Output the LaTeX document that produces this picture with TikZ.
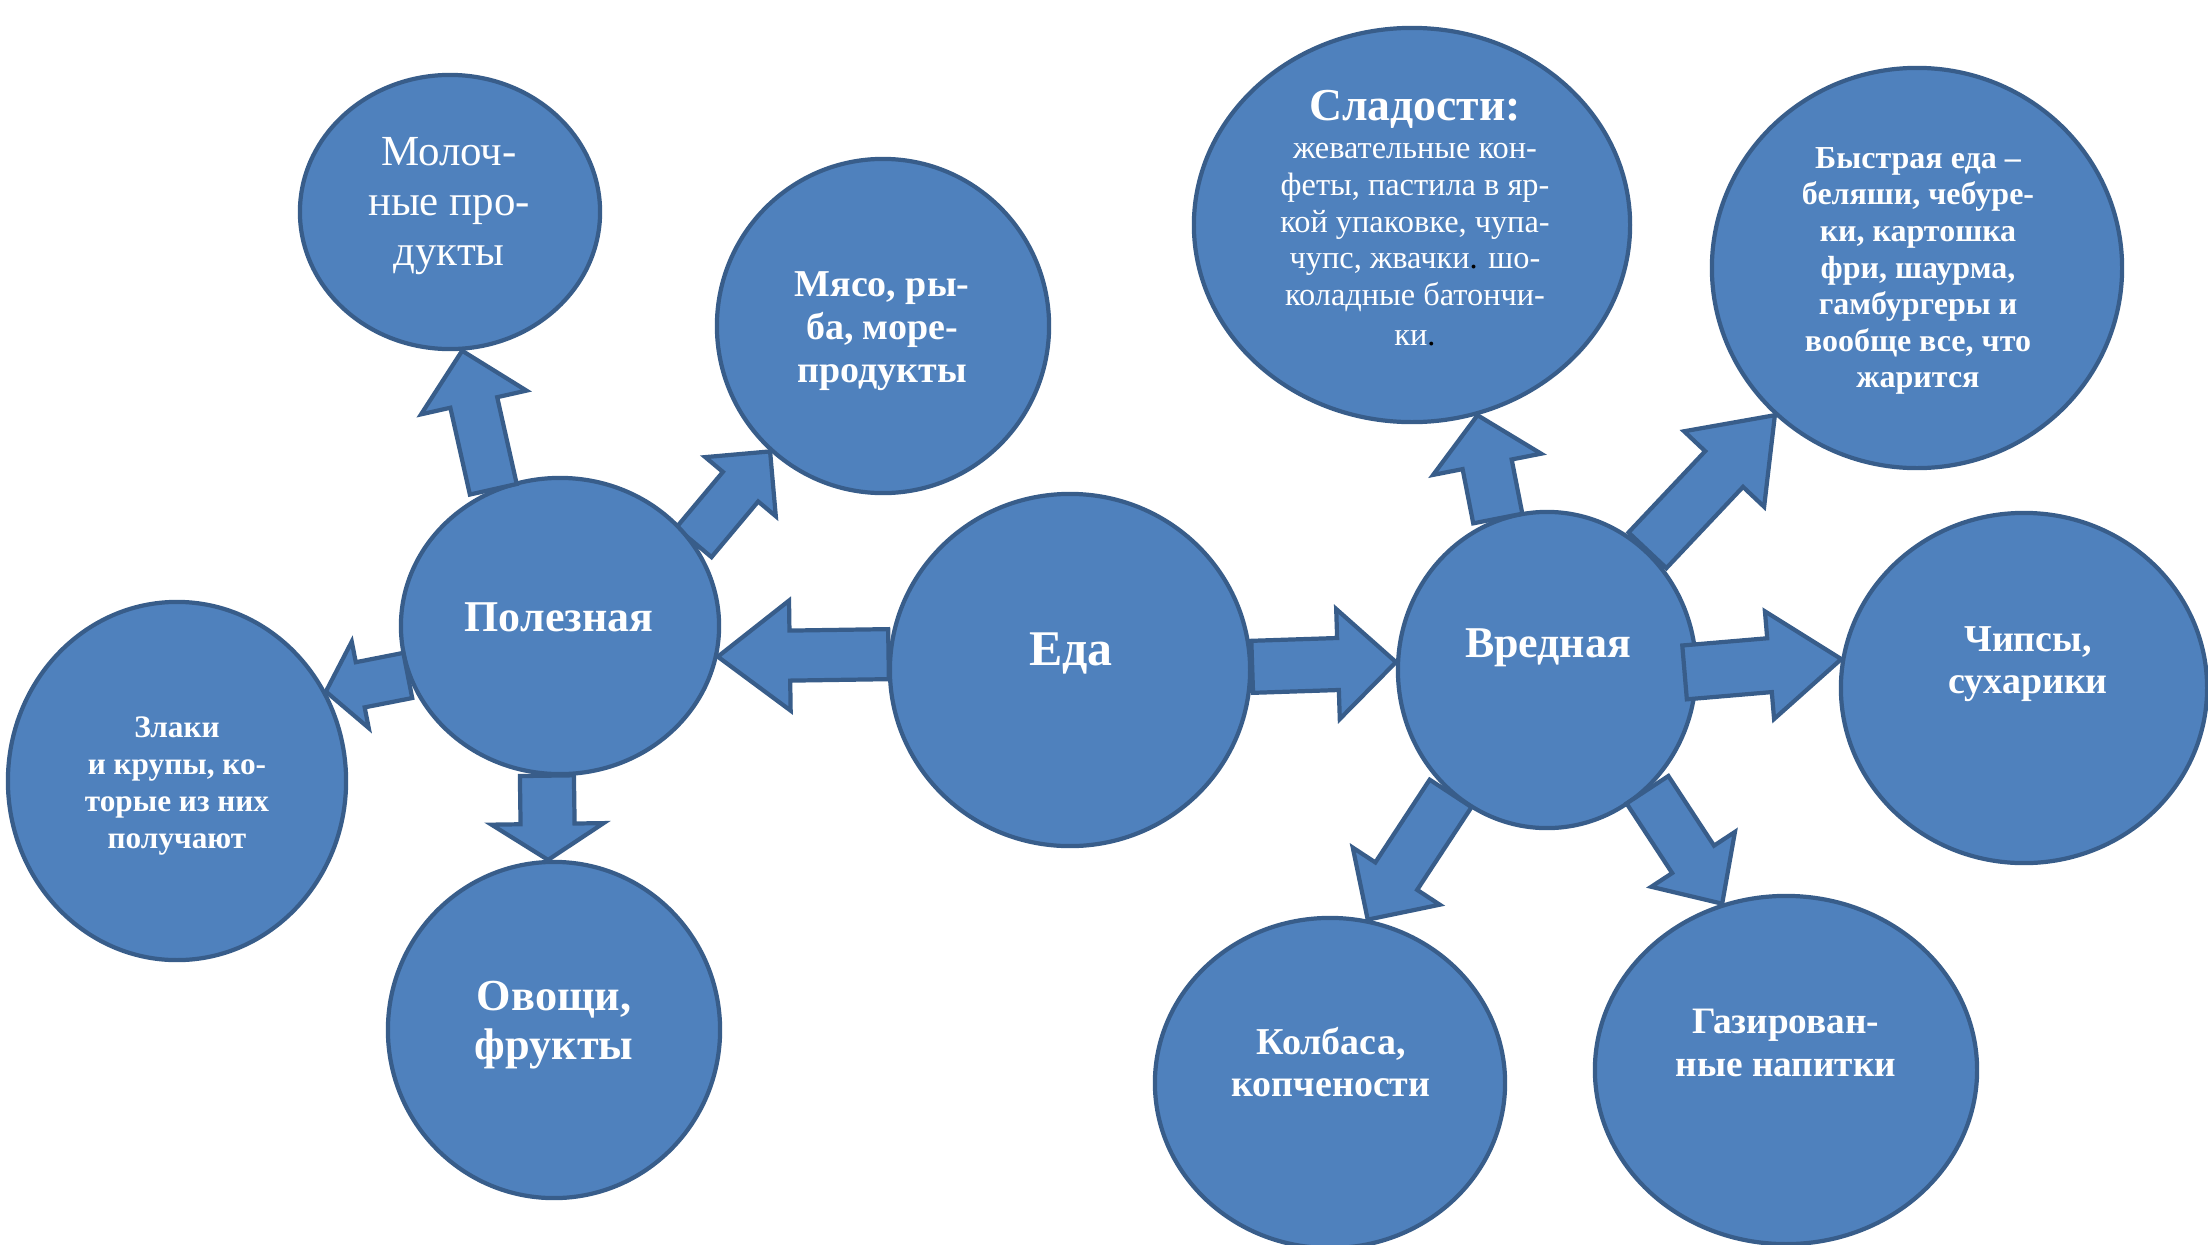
\documentclass[tikz,border=0pt]{standalone}
\usepackage{fontspec}
\setmainfont{Liberation Serif}
\usetikzlibrary{shapes.geometric,calc,backgrounds}
\definecolor{bubblefill}{HTML}{4F81BD}
\definecolor{bubbleline}{HTML}{385D8A}

% block arrow: tail, tip, shaft half-width, head half-width, head length
\newcommand{\blockarrow}[5]{%
  \coordinate (ba-t) at (#1);
  \coordinate (ba-p) at (#2);
  \coordinate (ba-h) at ($(ba-p)!#5!(ba-t)$);
  \draw[fatarrow] ($(ba-t)!#3!90:(ba-p)$) -- ($(ba-h)!#3!90:(ba-p)$) -- ($(ba-h)!#4!90:(ba-p)$)
    -- (ba-p) -- ($(ba-h)!#4!-90:(ba-p)$) -- ($(ba-h)!#3!-90:(ba-p)$) -- ($(ba-t)!#3!-90:(ba-p)$) -- cycle;
}

\begin{document}
\begin{tikzpicture}[
    x=0.01cm, y=-0.01cm,
    bubble/.style={ellipse, draw=bubbleline, fill=bubblefill, line width=1.2pt, inner sep=0pt},
    bubtext/.style={text=white, align=center, inner sep=0pt},
    fatarrow/.style={draw=bubbleline, fill=bubblefill, line width=1.2pt, line join=miter}
]
    \useasboundingbox (0,0) rectangle (2208,1245);

    % circles
    \node[bubble, minimum width=3.6cm, minimum height=3.52cm] (eda) at (1070,670) {};
    \node[bubble, minimum width=3.18cm, minimum height=2.96cm] (polez) at (560,626) {};
    \node[bubble, minimum width=2.98cm, minimum height=3.16cm] (vred) at (1547,670) {};
    \node[bubble, minimum width=3.0cm, minimum height=2.74cm] (moloch) at (450,212) {};
    \node[bubble, minimum width=3.32cm, minimum height=3.34cm] (myaso) at (883,326) {};
    \node[bubble, minimum width=3.38cm, minimum height=3.58cm] (zlaki) at (177,781) {};
    \node[bubble, minimum width=3.32cm, minimum height=3.36cm] (ovoshi) at (554,1030) {};
    \node[bubble, minimum width=4.36cm, minimum height=3.94cm] (sladosti) at (1412,225) {};
    \node[bubble, minimum width=4.1cm, minimum height=4.0cm] (fastfood) at (1917,268) {};
    \node[bubble, minimum width=3.66cm, minimum height=3.5cm] (chips) at (2024,688) {};
    \node[bubble, minimum width=3.5cm, minimum height=3.3cm] (kolbasa) at (1330,1083) {};
    \node[bubble, minimum width=3.82cm, minimum height=3.48cm] (gaz) at (1786,1070) {};

    % arrows under the circles
    \begin{scope}[on background layer]
        \blockarrow{eda.175}{polez.349}{0.25cm}{0.55cm}{0.72cm}
        \blockarrow{eda.1}{vred.177}{0.26cm}{0.55cm}{0.58cm}
        \blockarrow{polez.32}{myaso.228}{0.23cm}{0.46cm}{0.46cm}
        \blockarrow{polez.265}{ovoshi.92}{0.27cm}{0.56cm}{0.36cm}
        \blockarrow{vred.50}{fastfood.226}{0.26cm}{0.55cm}{0.74cm}
    \end{scope}

    % arrows over the circles
    \blockarrow{polez.116}{moloch.275}{0.24cm}{0.54cm}{0.53cm}
    \blockarrow{polez.198}{zlaki.31}{0.23cm}{0.44cm}{0.35cm}
    \blockarrow{vred.108}{sladosti.289}{0.25cm}{0.55cm}{0.5cm}
    \blockarrow{$(vred)!0.91!(vred.359)$}{chips.171}{0.27cm}{0.54cm}{0.72cm}
    \blockarrow{vred.232}{kolbasa.77}{0.25cm}{0.52cm}{0.52cm}
    \blockarrow{vred.310}{gaz.111}{0.25cm}{0.5cm}{0.53cm}

    % texts
    \node[bubtext, font=\bfseries\fontsize{14.2}{17}\selectfont] (eda-t) at (1071,653) {Еда};
    \node[bubtext, font=\bfseries\fontsize{12.5}{15}\selectfont] (polez-t) at (559,617) {Полезная};
    \node[bubtext, font=\bfseries\fontsize{12.5}{15}\selectfont] (vred-t) at (1548,648) {Вредная};
    \node[bubtext, font=\fontsize{12.2}{14.2}\selectfont] (moloch-t) at (449,206) {Молоч-\\ные про-\\дукты};
    \node[bubtext, font=\bfseries\fontsize{10.8}{12.2}\selectfont] (myaso-t) at (882,331) {Мясо, ры-\\ба, море-\\продукты};
    \node[bubtext, font=\bfseries\fontsize{8.9}{10.5}\selectfont] (zlaki-t) at (177,786) {Злаки\\и крупы, ко-\\торые из них\\получают};
    \node[bubtext, font=\bfseries\fontsize{12.6}{13.8}\selectfont] (ovoshi-t) at (554,1025) {Овощи,\\фрукты};
    \node[bubtext, font=\fontsize{9.2}{10.4}\selectfont] (sladosti-t) at (1415,218)
        {{\bfseries\fontsize{13}{15}\selectfont Сладости:}\\[0.5pt]
         жевательные кон-\\феты, пастила в яр-\\кой упаковке, чупа-\\чупс, жвачки{\color{black}.} шо-\\коладные батончи-\\[1pt]ки{\color{black}.}};
    \node[bubtext, font=\bfseries\fontsize{9.1}{10.4}\selectfont] (fastfood-t) at (1918,271)
        {Быстрая еда –\\беляши, чебуре-\\ки, картошка\\фри, шаурма,\\гамбургеры и\\вообще все, что\\жарится};
    \node[bubtext, font=\bfseries\fontsize{10.8}{11.9}\selectfont] (chips-t) at (2028,664) {Чипсы,\\сухарики};
    \node[bubtext, font=\bfseries\fontsize{10.8}{12.1}\selectfont] (kolbasa-t) at (1331,1062) {Колбаса,\\копчености};
    \node[bubtext, font=\bfseries\fontsize{10.6}{12.3}\selectfont] (gaz-t) at (1786,1043) {Газирован-\\ные напитки};
\end{tikzpicture}
\end{document}
